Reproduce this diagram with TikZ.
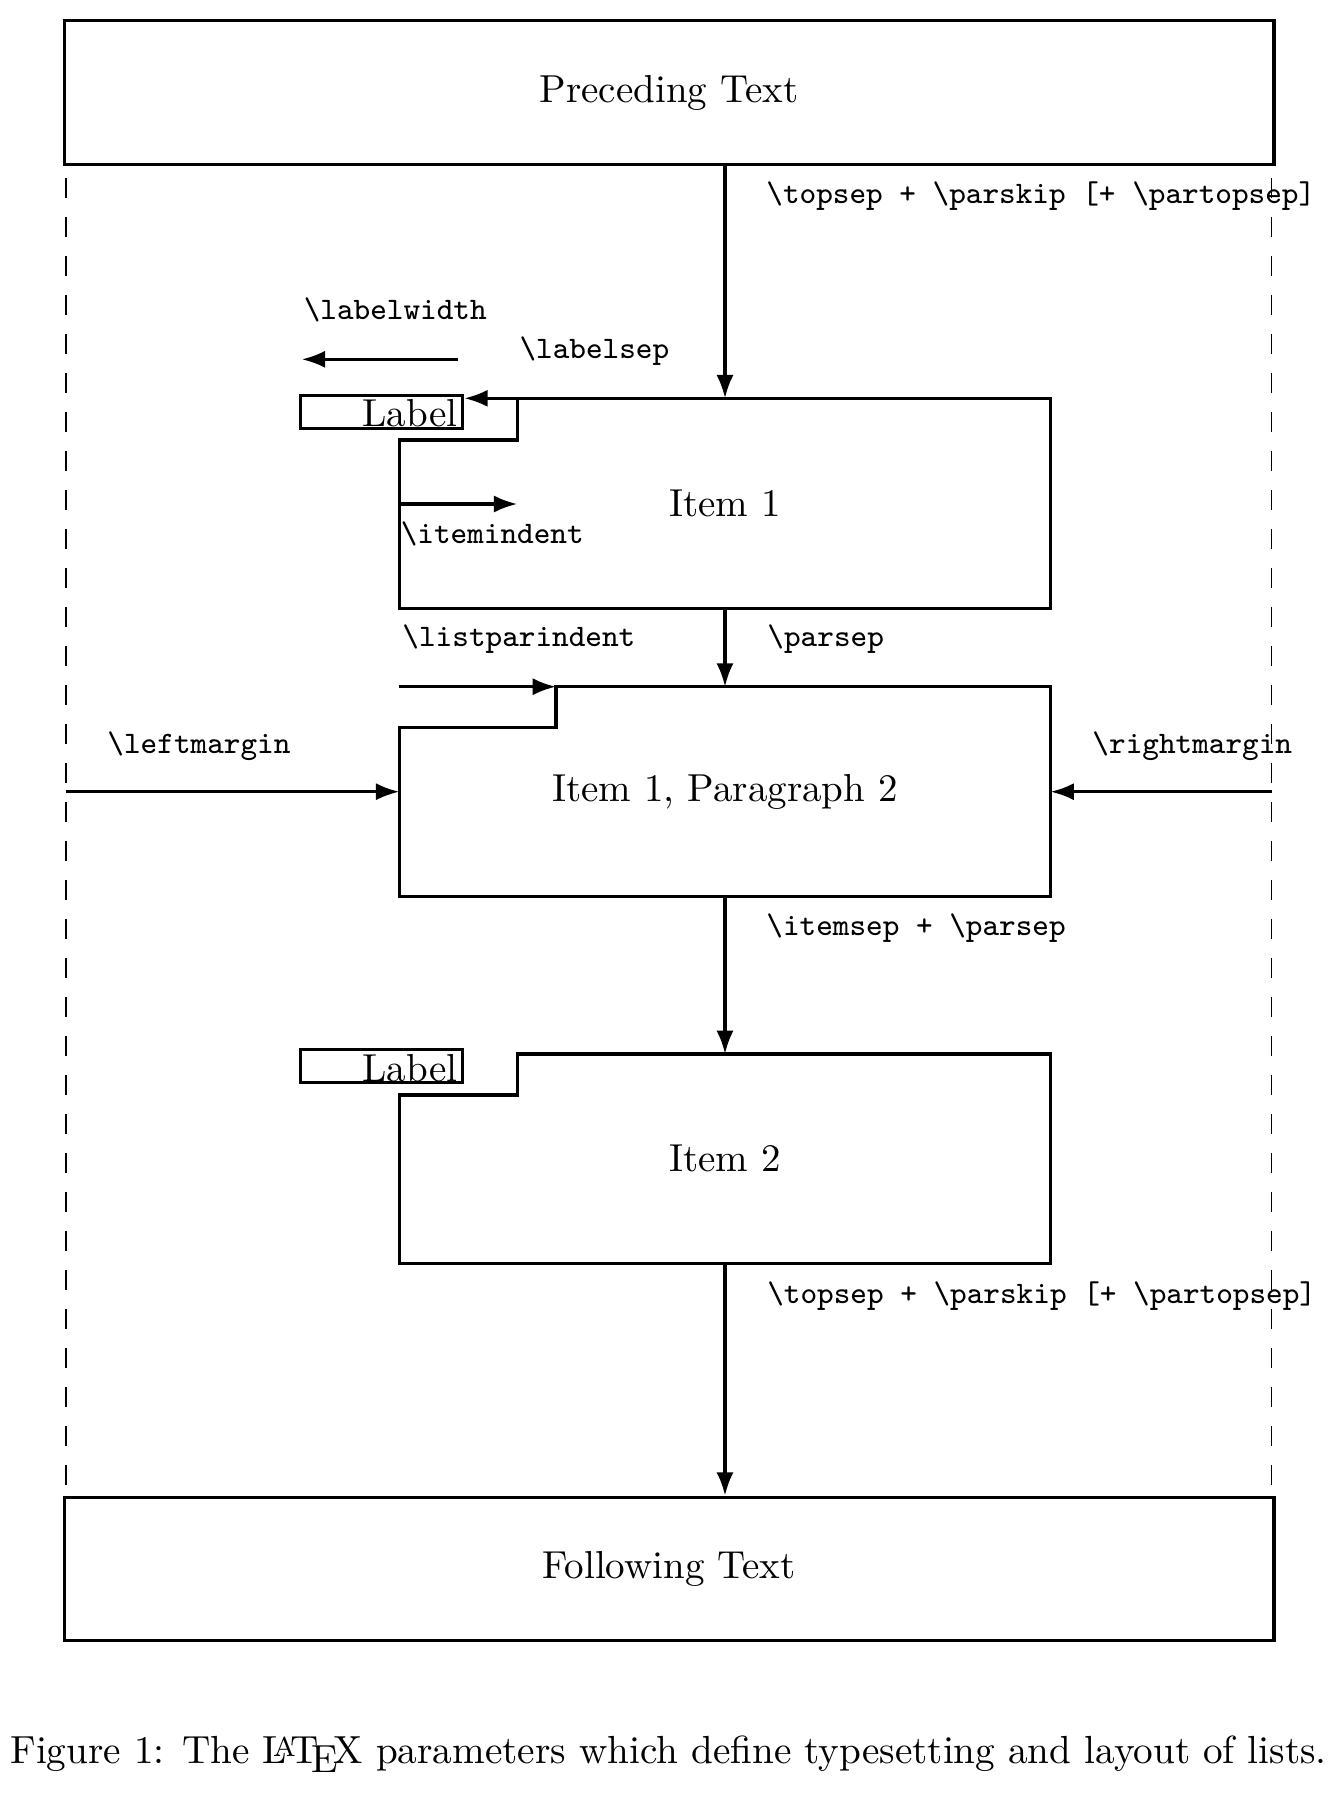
\documentclass[tikz,border=0pt]{standalone}
\usetikzlibrary{arrows.meta}
\begin{document}
\begin{tikzpicture}[x=0.2564pt,y=-0.2564pt,
  line join=miter,
  bigbox/.style={draw, line width=0.8pt, minimum width=310.2pt, minimum height=36.7pt, inner sep=0pt, font=\fontsize{10}{12}\selectfont},
  itembox/.style={draw, line width=0.8pt},
  labbox/.style={draw, line width=0.8pt, minimum width=41.5pt, minimum height=8.5pt, inner sep=0pt, anchor=south west},
  arr/.style={line width=0.8pt, -{Latex[length=6pt,width=4.4pt]}},
  margin/.style={line width=0.4pt, dash pattern=on 5pt off 5pt, dash phase=6.4pt},
  ttl/.style={anchor=base west, inner sep=0pt, font=\fontsize{8.03}{10}\selectfont\ttfamily},
  rml/.style={inner sep=0pt, font=\fontsize{10}{12}\selectfont}]
\useasboundingbox (0,0) rectangle (1336,1799);

% outer boxes
\node[bigbox] (prec) at (669,92.5) {Preceding Text};
\node[bigbox] (foll) at (669,1568.8) {Following Text};

% margin lines
\coordinate (ml) at (66,164.3);
\coordinate (mlb) at (66,1497.3);
\coordinate (mr) at (1271.7,164.3);
\coordinate (mrb) at (1271.7,1497.3);
\draw[margin] (ml) -- (mlb);
\draw[margin] (mr) -- (mrb);

% item 1
\coordinate (i1n) at (517.3,398.3);
\coordinate (i1top) at (725,398.3);
\coordinate (i1bot) at (725,608.3);
\draw[itembox] (i1n) -- (1050.5,398.3) -- (1050.5,608.3) -- (399.3,608.3) -- (399.3,440) -- (517.3,440) -- cycle;
\node[rml] (item1) at (725,503) {Item 1};
\node[labbox] (lab1) at (299.3,430) {};
\node[rml, anchor=base east] (lab1t) at (458,426.7) {Label};

% item 1 paragraph 2
\coordinate (p2top) at (725,686.7);
\coordinate (p2bot) at (725,896.4);
\coordinate (p2l) at (399.3,686.7);
\coordinate (p2n) at (556,686.7);
\draw[itembox] (p2n) -- (1050.5,686.7) -- (1050.5,896.4) -- (399.3,896.4) -- (399.3,727.7) -- (556,727.7) -- cycle;
\node[rml] (item1p2) at (725,791.5) {Item 1, Paragraph 2};

% item 2
\coordinate (i2top) at (725,1054);
\coordinate (i2bot) at (725,1263.5);
\draw[itembox] (517.3,1054) -- (1050.5,1054) -- (1050.5,1263.5) -- (399.3,1263.5) -- (399.3,1095) -- (517.3,1095) -- cycle;
\node[rml] (item2) at (725,1158.8) {Item 2};
\node[labbox] (lab2) at (299.3,1084.3) {};
\node[rml, anchor=base east] (lab2t) at (458,1081.7) {Label};

% arrows
\draw[arr] (prec.south -| i1top) -- (i1top);
\draw[arr] (i1bot) -- (p2top);
\draw[arr] (p2bot) -- (i2top);
\draw[arr] (i2bot) -- (foll.north -| i2bot);

\coordinate (lw1) at (458.3,359.3);
\coordinate (lw2) at (301.7,359.3);
\draw[arr] (lw1) -- (lw2);
\draw[arr] (i1n) -- (lab1.north east |- i1n);
\coordinate (ii1) at (399.3,504);
\coordinate (ii2) at (517.3,504);
\draw[arr] (ii1) -- (ii2);
\draw[arr] (p2l) -- (p2n);
\coordinate (lm1) at (66,791.7);
\coordinate (lm2) at (399.3,791.7);
\draw[arr] (lm1) -- (lm2);
\coordinate (rm1) at (1271.7,791.7);
\coordinate (rm2) at (1050.5,791.7);
\draw[arr] (rm1) -- (rm2);

% labels
\node[ttl] (t1) at (765.6,203.3) {\textbackslash topsep + \textbackslash parskip [+ \textbackslash partopsep]};
\node[ttl] (t2) at (303,319.3) {\textbackslash labelwidth};
\node[ttl] (t3) at (518.8,358) {\textbackslash labelsep};
\node[ttl] (t4) at (400,543.3) {\textbackslash itemindent};
\node[ttl] (t5) at (401.7,646.7) {\textbackslash listparindent};
\node[ttl] (t6) at (766.7,646.7) {\textbackslash parsep};
\node[ttl] (t7) at (106.7,753.3) {\textbackslash leftmargin};
\node[ttl] (t8) at (1091.7,753.3) {\textbackslash rightmargin};
\node[ttl] (t9) at (765.6,935) {\textbackslash itemsep + \textbackslash parsep};
\node[ttl] (t10) at (766.5,1303.3) {\textbackslash topsep + \textbackslash parskip [+ \textbackslash partopsep]};

% caption
\node[rml, font=\fontsize{10.05}{12}\selectfont] (cap) at (668.6,1754) {Figure 1: The \LaTeX{} parameters which define typesetting and layout of lists.};
\end{tikzpicture}
\end{document}
